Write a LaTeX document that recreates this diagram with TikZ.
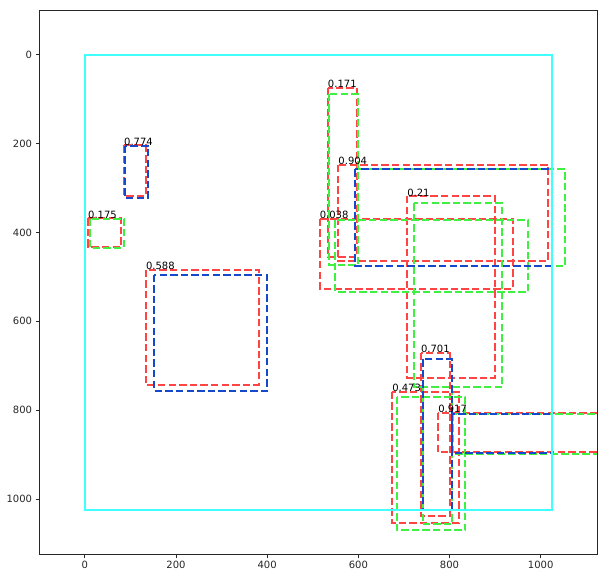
\documentclass[tikz,border=0pt]{standalone}
\usepackage{fontspec}
\setmainfont{DejaVu Sans}
\usetikzlibrary{positioning}
\definecolor{boxRed}{RGB}{255,68,68}
\definecolor{boxGreen}{RGB}{64,240,64}
\definecolor{boxBlue}{RGB}{22,72,204}
\definecolor{imgCyan}{RGB}{64,255,255}
\definecolor{tickGray}{RGB}{38,38,38}

\begin{document}
\begin{tikzpicture}[
  x=1pt,y=1pt,
  detbox/.style={
    line width=2pt,
    dash pattern=on 7.4pt off 3.2pt
  },
  redbox/.style={detbox,draw=boxRed},
  greenbox/.style={detbox,draw=boxGreen},
  bluebox/.style={detbox,draw=boxBlue},
  score/.style={
    anchor=base west,
    inner sep=0pt,
    font=\fontsize{10}{12}\selectfont
  },
  ticklabel/.style={
    inner sep=0pt,
    text=tickGray,
    font=\fontsize{10}{12}\selectfont
  }
]
  \useasboundingbox (0,0) rectangle (608,-578);
  \begin{scope}[shift={(84.8pt,-54.7pt)},x=0.4559pt,y=-0.4444pt]
    \begin{scope}
      \clip (-100,-100) rectangle (1124,1124);
      % predicted boxes
      \draw[redbox] (86,204) rectangle (134,318);
      \draw[redbox] (7,368) rectangle (80,432);
      \draw[redbox] (134,484) rectangle (381,743);
      \draw[redbox] (533,74) rectangle (596,456);
      \draw[redbox] (556,248) rectangle (1017,464);
      \draw[redbox] (515,369) rectangle (939,527);
      \draw[redbox] (707,318) rectangle (900,727);
      \draw[redbox] (737,671) rectangle (801,1037);
      \draw[redbox] (674,758) rectangle (821,1053);
      \draw[redbox] (775,806) rectangle (1200,895);
      % matched boxes
      \draw[greenbox] (11,369) rectangle (86,434);
      \draw[greenbox] (536,88) rectangle (599,474);
      \draw[greenbox] (593,258) rectangle (1053,475);
      \draw[greenbox] (549,373) rectangle (973,533);
      \draw[greenbox] (721,334) rectangle (915,748);
      \draw[greenbox] (741,747) rectangle (805,1057);
      \draw[greenbox] (684,770) rectangle (835,1070);
      \draw[greenbox] (808,808) rectangle (1200,899);
      % ground truth
      \draw[bluebox] (88,205) rectangle (139,322);
      \draw[bluebox] (152,495) rectangle (400,756);
      \draw[bluebox] (593,258) rectangle (1024,475);
      \draw[bluebox] (741,685) rectangle (805,1024);
      \draw[bluebox] (805,808) rectangle (1024,897);
      % image frame
      \draw[imgCyan,line width=2pt] (0,0) rectangle (1024,1024);
    \end{scope}

    % scores
    \node[score] (s774) at (86,204) {0.774};
    \node[score] (s175) at (7,368) {0.175};
    \node[score] (s588) at (134,484) {0.588};
    \node[score] (s171) at (533,74) {0.171};
    \node[score] (s904) at (556,248) {0.904};
    \node[score] (s038) at (515,369) {0.038};
    \node[score] (s210) at (707,318) {0.21};
    \node[score] (s701) at (737,671) {0.701};
    \node[score] (s473) at (674,758) {0.473};
    \node[score] (s917) at (775,806) {0.917};

    % axes
    \draw[line width=0.8pt,tickGray] (-100,-100) rectangle (1124,1124);
    \foreach \v in {0,200,...,1000} {
      \draw[line width=0.8pt,tickGray] (\v,1124) -- ++(0pt,-3.5pt);
      \draw[line width=0.8pt,tickGray] (-100,\v) -- ++(-3.5pt,0pt);
      \node[ticklabel,anchor=north] (xt\v) at ([yshift=-7pt]\v,1124) {\v};
      \node[ticklabel,anchor=east] (yt\v) at ([xshift=-7pt]-100,\v) {\v};
    }
  \end{scope}
\end{tikzpicture}
\end{document}
